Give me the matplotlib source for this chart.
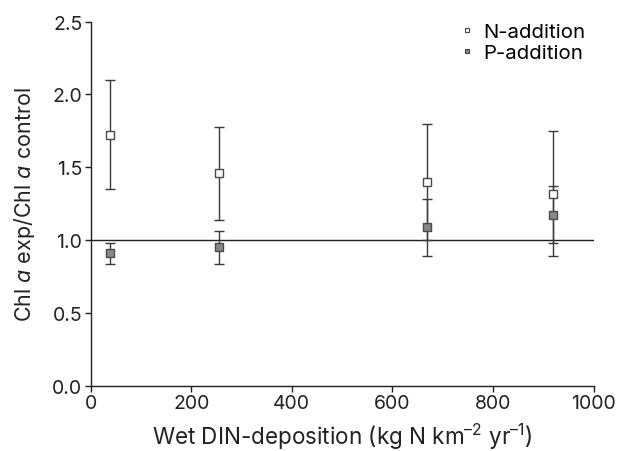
import numpy as np
import matplotlib
matplotlib.use('Agg')
import matplotlib.pyplot as plt
from matplotlib.lines import Line2D

plt.rcParams['font.family'] = ['Inter', 'DejaVu Sans']
plt.rcParams['mathtext.fontset'] = 'custom'
plt.rcParams['mathtext.rm'] = 'Inter'
plt.rcParams['mathtext.it'] = 'Inter:italic'

# wet DIN deposition per site
din = [39, 255, 669, 919]

# N-addition ratios and error bar ends
n_ratio = [1.72, 1.46, 1.40, 1.32]
n_low = [1.35, 1.14, 1.00, 0.89]
n_high = [2.10, 1.78, 1.80, 1.75]

# P-addition ratios and error bar ends
p_ratio = [0.91, 0.95, 1.09, 1.17]
p_low = [0.84, 0.84, 0.89, 0.98]
p_high = [0.98, 1.06, 1.28, 1.37]

fig = plt.figure(figsize=(6.17, 4.52), dpi=100)
ax = fig.add_axes([0.147, 0.144, 0.815, 0.806])

ax.axhline(1.0, color='#222222', lw=1.0, zorder=1)

def draw(y, lo, hi, face):
    y = np.array(y)
    err = [y - np.array(lo), np.array(hi) - y]
    ax.errorbar(din, y, yerr=err, fmt='none', ecolor='#3a3a3a', elinewidth=1.0,
                capsize=3.6, capthick=1.0, zorder=2)
    ax.plot(din, y, 's', ms=6, mfc=face, mec='#4a4a4a', mew=1.0, ls='none', zorder=3)

draw(n_ratio, n_low, n_high, 'white')
draw(p_ratio, p_low, p_high, '#878787')

ax.set_xlim(0, 1000)
ax.set_ylim(0, 2.5)
ax.set_xticks([0, 200, 400, 600, 800, 1000])
ax.set_yticks([0.0, 0.5, 1.0, 1.5, 2.0, 2.5])
ax.set_yticklabels(['0.0', '0.5', '1.0', '1.5', '2.0', '2.5'])
for s in ['top', 'right']:
    ax.spines[s].set_visible(False)
for s in ['left', 'bottom']:
    ax.spines[s].set_linewidth(1.0)
    ax.spines[s].set_color('#222222')
ax.tick_params(direction='out', length=4, width=1.0, labelsize=14, colors='#222222', pad=2)

ax.set_xlabel('Wet DIN-deposition (kg N km$^{\u2013 2}$ yr$^{\u2013 1}$)', fontsize=16.2,
              color='#222222', labelpad=6)
ax.set_ylabel('Chl $\\it{a}$ exp/Chl $\\it{a}$ control', fontsize=15.5,
              color='#222222', labelpad=11)

handles = [Line2D([], [], marker='s', ls='none', ms=3.5, mfc='white', mec='#444444', mew=0.8),
           Line2D([], [], marker='s', ls='none', ms=3.5, mfc='#878787', mec='#444444', mew=0.8)]
ax.legend(handles, ['N-addition', 'P-addition'], loc='upper right', bbox_to_anchor=(1.0, 1.02),
          frameon=False, fontsize=14.7, handlelength=0.6, handletextpad=0.5,
          labelspacing=0.15, borderaxespad=0.0)

fig.savefig('out.png', dpi=100)
